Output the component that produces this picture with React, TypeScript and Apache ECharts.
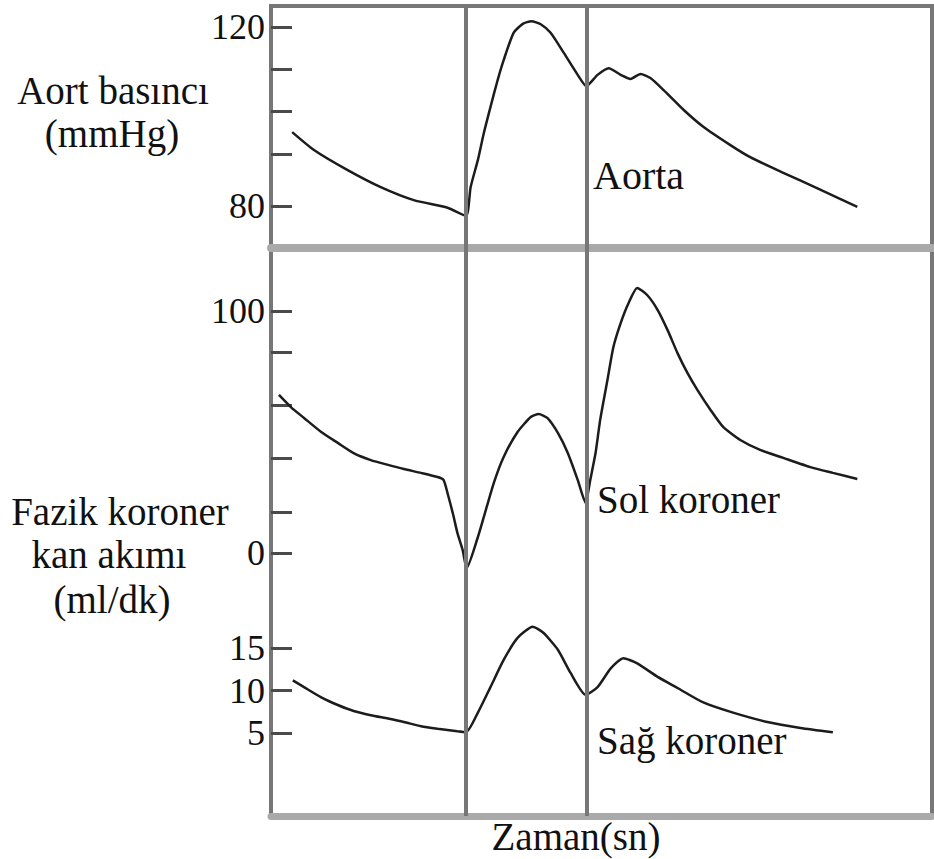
import React, { useEffect, useRef } from "react";
import * as echarts from "echarts";

// Time axis (arbitrary units, 0..100 of the plotted interval)
const aortaTime = [3.2, 6.5, 11.6, 16.6, 21.6, 26.7, 29.5, 30.2, 31.3, 32.2, 33.2, 34.3, 35.2, 36.7, 38.1, 39.4, 40.8, 42.3, 44.3, 46.4, 47.7, 49.4, 51.1, 52.9, 54.4, 55.9, 57.4, 59.4, 62.4, 65.4, 69.5, 72.5, 77.5, 82.6, 88.7];
const aortaPressure = [96.5, 92.5, 88.0, 84.2, 81.3, 79.6, 77.8, 84.2, 90.3, 96.3, 102.1, 108.2, 112.6, 118.7, 120.7, 121.3, 120.6, 118.7, 114.2, 109.3, 106.8, 109.3, 110.8, 109.3, 108.4, 109.5, 108.6, 105.9, 101.5, 97.7, 93.6, 90.9, 87.4, 84.0, 79.8];

const solTime = [1.2, 3.0, 5.0, 7.6, 10.1, 12.5, 15.1, 17.7, 20.1, 22.7, 25.2, 26.1, 26.7, 27.5, 28.2, 29.0, 29.6, 31.3, 32.2, 33.7, 35.2, 37.3, 39.3, 40.5, 41.8, 43.4, 44.9, 46.4, 47.6, 48.3, 49.1, 49.8, 50.9, 51.8, 52.9, 54.1, 55.4, 56.9, 58.5, 60.0, 61.5, 63.0, 64.5, 66.5, 68.4, 71.0, 74.0, 77.5, 81.6, 85.0, 88.7];
const solFlow = [65.3, 60.3, 55.8, 50.0, 45.5, 41.3, 38.4, 36.4, 34.7, 33.1, 31.4, 30.2, 24.8, 16.5, 8.3, 1.2, -6.2, 6.6, 14.9, 28.9, 39.7, 50.0, 56.2, 57.4, 55.8, 49.6, 41.3, 30.2, 20.7, 30.2, 41.3, 55.0, 71.5, 85.1, 95.0, 103.3, 109.5, 106.6, 100.4, 92.1, 82.6, 74.4, 67.4, 59.1, 52.1, 46.7, 42.6, 39.3, 35.5, 33.1, 30.6];

const sagTime = [3.3, 5.0, 7.6, 10.1, 12.5, 15.1, 17.7, 20.1, 22.7, 25.2, 28.2, 29.5, 31.3, 33.2, 35.2, 37.3, 39.6, 41.2, 43.4, 45.3, 47.6, 49.4, 51.4, 53.3, 55.4, 58.5, 61.5, 65.4, 69.9, 75.1, 80.1, 85.0];
const sagFlow = [11.2, 10.4, 9.2, 8.3, 7.6, 7.1, 6.7, 6.3, 5.8, 5.5, 5.2, 5.1, 7.4, 10.4, 13.6, 16.2, 17.5, 16.8, 14.8, 12.1, 9.5, 10.4, 12.6, 13.8, 13.2, 11.6, 10.3, 8.6, 7.4, 6.3, 5.6, 5.1];

// Phase boundaries (vertical lines)
const phaseMarks = [29.4, 47.8];

// Axis ticks and labels
const aortaTicks = [80, 91.6, 101.2, 110.6, 120];
const aortaLabels = [80, 120];
const solTicks = [0, 17, 39, 61, 83, 100];
const solLabels = [0, 100];
const sagTicks = [5, 10, 15];
const sagLabels = [5, 10, 15];

const FONT = "'Liberation Serif', 'Times New Roman', serif";
const INK = "#111";

function pairs(xs: number[], ys: number[]) {
  return xs.map((x, i) => [x, ys[i]]);
}

function yAxisFor(gridIndex: number, min: number, max: number, ticks: number[], labels: number[]) {
  return {
    gridIndex,
    type: "value",
    min,
    max,
    position: "left",
    axisLine: { show: false },
    splitLine: { show: false },
    axisTick: {
      show: true,
      inside: true,
      length: 21,
      customValues: ticks,
      lineStyle: { color: "#4a4a4a", width: 3 },
    },
    axisLabel: {
      show: true,
      customValues: labels,
      fontFamily: FONT,
      fontSize: 36,
      color: INK,
      margin: 6,
    },
  };
}

function xAxisFor(gridIndex: number, lineWidth: number) {
  return {
    gridIndex,
    type: "value",
    min: 0,
    max: 100,
    position: "bottom",
    axisLine: { show: lineWidth > 0, onZero: false, lineStyle: { color: "#aaaaaa", width: lineWidth } },
    axisTick: { show: false },
    axisLabel: { show: false },
    splitLine: { show: false },
  };
}

const curveStyle = { color: "#1c1c1c", width: 2.5 };

const markLines = {
  silent: true,
  symbol: ["none", "none"],
  label: { show: false },
  lineStyle: { color: "#777777", width: 4, type: "solid" },
  data: phaseMarks.map((v) => ({ xAxis: v })),
};

function text(t: string, x: number, y: number, align: string, size: number) {
  return {
    type: "text",
    x,
    y,
    z: 100,
    style: {
      text: t,
      fontFamily: FONT,
      fontSize: size,
      fill: INK,
      align,
      verticalAlign: "middle",
    },
  };
}

export default function App() {
  const ref = useRef<HTMLDivElement>(null);
  useEffect(() => {
    if (!ref.current) return;
    const chart = echarts.init(ref.current, null, { renderer: "svg" });
    chart.setOption({
      animation: false,
      backgroundColor: "#ffffff",
      grid: [
        { left: 271, top: 6, width: 661, height: 242, show: true, borderColor: "#777777", borderWidth: 4, backgroundColor: "transparent" },
        { left: 271, top: 248, width: 661, height: 568, show: true, borderColor: "#777777", borderWidth: 4, backgroundColor: "transparent" },
        { left: 271, top: 248, width: 661, height: 568, show: false },
      ],
      xAxis: [xAxisFor(0, 8), xAxisFor(1, 7), xAxisFor(2, 0)],
      yAxis: [
        yAxisFor(0, 70.61, 124.69, aortaTicks, aortaLabels),
        yAxisFor(1, -108.68, 126.03, solTicks, solLabels),
        yAxisFor(2, -4.76, 62.06, sagTicks, sagLabels),
      ],
      series: [
        {
          name: "Aorta",
          type: "line",
          xAxisIndex: 0,
          yAxisIndex: 0,
          data: pairs(aortaTime, aortaPressure),
          showSymbol: false,
          smooth: 0.2,
          lineStyle: curveStyle,
          markLine: markLines,
        },
        {
          name: "Sol koroner",
          type: "line",
          xAxisIndex: 1,
          yAxisIndex: 1,
          data: pairs(solTime, solFlow),
          showSymbol: false,
          smooth: 0.2,
          lineStyle: curveStyle,
          markLine: markLines,
        },
        {
          name: "Sağ koroner",
          type: "line",
          xAxisIndex: 2,
          yAxisIndex: 2,
          data: pairs(sagTime, sagFlow),
          showSymbol: false,
          smooth: 0.2,
          lineStyle: curveStyle,
        },
      ],
      graphic: [
        text("Aort basıncı", 113, 90, "center", 39),
        text("(mmHg)", 112, 133, "center", 39),
        text("Fazik koroner", 120, 511, "center", 39),
        text("kan akımı", 109, 554, "center", 39),
        text("(ml/dk)", 112, 599, "center", 39),
        text("Aorta", 593, 175, "left", 40),
        text("Sol koroner", 597, 499, "left", 39),
        text("Sağ koroner", 597, 740, "left", 39),
        text("Zaman(sn)", 576, 836, "center", 39),
      ],
    });
    return () => chart.dispose();
  }, []);
  return (
    <div
      ref={ref}
      style={{ position: "absolute", left: 0, top: 0, width: 934, height: 859 }}
    />
  );
}
